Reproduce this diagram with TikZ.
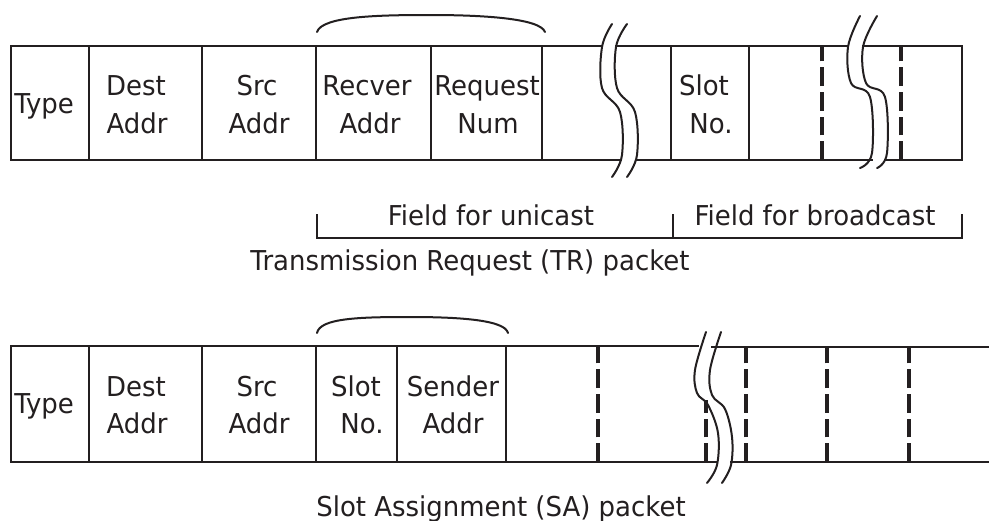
\documentclass[tikz,border=0pt]{standalone}
\usepackage{fontspec}
\setmainfont{DejaVu Sans}[FakeStretch=0.95]
\definecolor{ink}{RGB}{35,31,32}
\tikzset{
  box/.style={draw=ink, line width=2pt, line cap=rect},
  dashdiv/.style={draw=ink, line width=3pt, dash pattern=on 14pt off 4.5pt},
  wave/.style={draw=ink, line width=1.5pt, line cap=round},
  hump/.style={draw=ink, line width=1.5pt, line cap=round},
  brk/.style={draw=ink, line width=1.7pt},
  lbl/.style={anchor=base, inner sep=0pt, text=ink, font=\fontsize{20.5}{24}\selectfont},
}
\begin{document}
\begin{tikzpicture}[x=0.75pt, y=-0.75pt]
\useasboundingbox (0,0) rectangle (989,521);
\fill[white] (0,0) rectangle (989,521);

% ===== TR packet =====
% horizontal lines
\draw[box] (11,46) -- (602,46);
\draw[box] (616,46) -- (848,46);
\draw[box] (863,46) -- (962,46);
\draw[box] (11,160) -- (621,160);
\draw[box] (637,160) -- (872,160);
\draw[box] (886,160) -- (962,160);
% solid dividers
\foreach \x in {11,89,202,316,431,542,671,749,962}
  \draw[box] (\x,46) -- (\x,160);
% dashed dividers
\foreach \x in {822,901}
  \draw[dashdiv] (\x,160) -- (\x,46);
% breaks
\draw[wave] plot[smooth, tension=0.6] coordinates {(612,24) (602,47) (602,88) (620,112) (622,155) (612,177)};
\draw[wave] plot[smooth, tension=0.6] coordinates {(627,24) (616,47) (617,88) (635,112) (637,155) (627,177)};
\draw[wave] plot[smooth, tension=0.6] coordinates {(860,16) (848,47) (851,83) (870,97) (872,153) (860,168)};
\draw[wave] plot[smooth, tension=0.6] coordinates {(877,16) (863,47) (866,83) (885,97) (887,153) (877,168)};
% hump over unicast fields
\draw[hump] (317,32) .. controls (322,16) and (380,15) .. (430,15) .. controls (480,15) and (540,18) .. (545,32);

% texts
\node[lbl, anchor=base west] (t1) at (14,113) {Type};
\node[lbl] (d1a) at (136,95) {Dest};
\node[lbl] (d1b) at (137,133) {Addr};
\node[lbl] (s1a) at (257,95) {Src};
\node[lbl] (s1b) at (259,133) {Addr};
\node[lbl] (r1a) at (367,95) {Recver};
\node[lbl] (r1b) at (370,133) {Addr};
\node[lbl] (q1a) at (487,95) {Request};
\node[lbl] (q1b) at (488,133) {Num};
\node[lbl] (n1a) at (704,95) {Slot};
\node[lbl] (n1b) at (711,133) {No.};

% field brackets
\draw[brk] (317,214) -- (317,238) -- (962,238) -- (962,214);
\draw[brk] (673,214) -- (673,238);
\node[lbl] (uni) at (491,225) {Field for unicast};
\node[lbl] (bro) at (815,225) {Field for broadcast};
\node[lbl] (trp) at (470,270) {Transmission Request (TR) packet};

% ===== SA packet =====
\draw[box] (11,346) -- (698,346);
\draw[box] (712,347) -- (989,347);
\draw[box] (11,462) -- (717,462);
\draw[box] (731,462) -- (989,462);
\foreach \x in {11,89,202,316,397,506}
  \draw[box] (\x,346) -- (\x,462);
\foreach \x in {598,746,827,909}
  \draw[dashdiv] (\x,462) -- (\x,347);
\draw[dashdiv] (706,462) -- (706,400);
\draw[wave] plot[smooth, tension=0.6] coordinates {(706,332) (695,370) (697,393) (708,405) (718,433) (717,465) (707,483)};
\draw[wave] plot[smooth, tension=0.6] coordinates {(721,332) (710,370) (712,395) (725,409) (732,437) (731,465) (722,483)};
\draw[hump] (317,333) .. controls (320,318) and (360,317) .. (410,317) .. controls (460,317) and (505,320) .. (508,333);

\node[lbl, anchor=base west] (t2) at (14,413) {Type};
\node[lbl] (d2a) at (136,396) {Dest};
\node[lbl] (d2b) at (137,433) {Addr};
\node[lbl] (s2a) at (257,396) {Src};
\node[lbl] (s2b) at (259,433) {Addr};
\node[lbl] (n2a) at (356,396) {Slot};
\node[lbl] (n2b) at (362,433) {No.};
\node[lbl] (e2a) at (453,396) {Sender};
\node[lbl] (e2b) at (453,433) {Addr};
\node[lbl] (sap) at (501,516) {Slot Assignment (SA) packet};
\end{tikzpicture}
\end{document}
